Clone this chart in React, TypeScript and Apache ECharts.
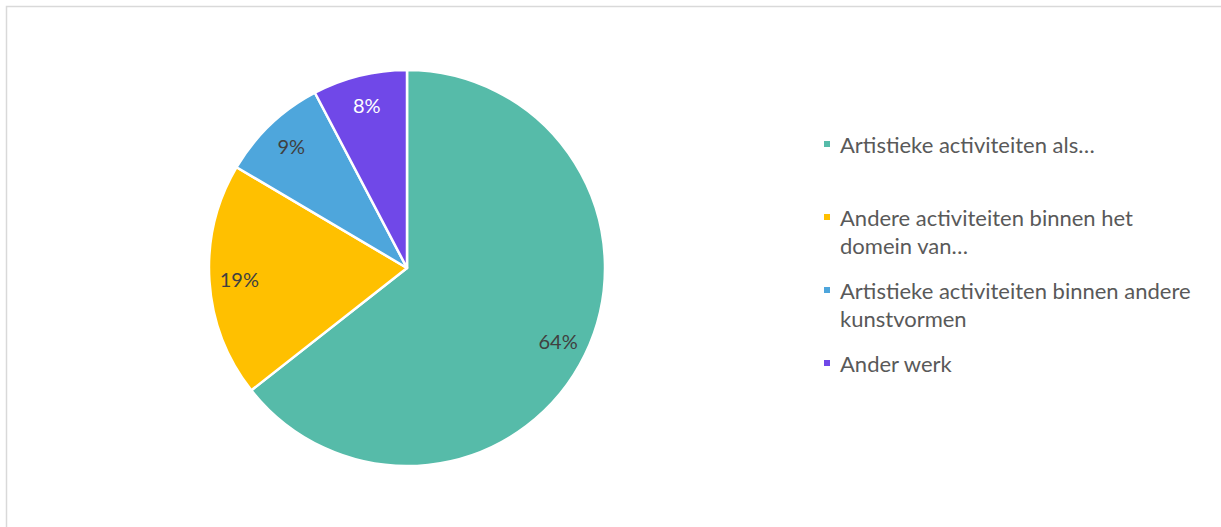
import React, { useEffect, useRef } from "react";
import * as echarts from "echarts";

const categories = [
  "Artistieke activiteiten als…",
  "Andere activiteiten binnen het domein van…",
  "Artistieke activiteiten binnen andere kunstvormen",
  "Ander werk",
];
const legendLines = [
  ["Artistieke activiteiten als…"],
  ["Andere activiteiten binnen het", "domein van…"],
  ["Artistieke activiteiten binnen andere", "kunstvormen"],
  ["Ander werk"],
];
const shares = [64.4, 19.1, 8.8, 7.7];
const colors = ["#56BBA9", "#FFC000", "#4EA6DC", "#7048E8"];
const labelColors = ["#404040", "#404040", "#404040", "#FFFFFF"];

const FONT = "Lato, 'Open Sans', sans-serif";

export default function App() {
  const ref = useRef<HTMLDivElement>(null);
  useEffect(() => {
    if (!ref.current) return;
    const chart = echarts.init(ref.current, null, { renderer: "svg" });
    const pieData = categories.map((name, i) => ({
      name,
      value: shares[i],
      itemStyle: { color: colors[i] },
    }));
    const labelData = categories.map((name, i) => ({
      name,
      value: shares[i],
      itemStyle: { color: "rgba(0,0,0,0)" },
      label: { color: labelColors[i] },
    }));
    chart.setOption({
      animation: false,
      backgroundColor: "#FFFFFF",
      graphic: [
        {
          type: "rect",
          silent: true,
          shape: { x: 6.5, y: 6.5, width: 1400, height: 700 },
          style: { fill: "none", stroke: "#D9D9D9", lineWidth: 1.5 },
        },
      ],
      legend: {
        orient: "vertical",
        left: 822,
        top: 102,
        padding: 0,
        itemGap: -11,
        itemWidth: 8,
        itemHeight: 8,
        icon: "rect",
        selectedMode: false,
        data: categories.map((name, i) => ({ name, itemStyle: { color: colors[i] } })),
        formatter: (name: string) => {
          const idx = categories.indexOf(name);
          const lines = legendLines[idx];
          const second = lines[1] ? `{t|${lines[1]}}` : "{e|}";
          return `{e|}\n{t|${lines[0]}}\n${second}`;
        },
        textStyle: {
          fontFamily: FONT,
          fontSize: 22,
          color: "#595959",
          rich: {
            t: { fontFamily: FONT, fontSize: 22, color: "#595959", lineHeight: 28, height: 28, padding: [0, 0, 0, 4] },
            e: { height: 28, lineHeight: 28 },
          },
        },
      },
      series: [
        {
          type: "pie",
          center: [407, 268],
          radius: [0, 198],
          startAngle: 90,
          clockwise: true,
          silent: true,
          label: { show: false },
          labelLine: { show: false },
          itemStyle: { borderColor: "#FFFFFF", borderWidth: 2.5 },
          emphasis: { disabled: true },
          data: pieData,
        },
        {
          type: "pie",
          center: [407, 268],
          radius: [0, 330],
          startAngle: 90,
          clockwise: true,
          silent: true,
          z: 3,
          emphasis: { disabled: true },
          labelLine: { show: false },
          label: {
            show: true,
            position: "inside",
            fontFamily: FONT,
            fontSize: 20,
            formatter: (p: any) => `${Math.round(p.value)}%`,
          },
          data: labelData,
        },
      ],
    });
    return () => chart.dispose();
  }, []);
  return (
    <div style={{ position: "fixed", left: 0, top: 0, width: 1221, height: 527, overflow: "hidden", background: "#fff" }}>
      <div ref={ref} style={{ width: 1221, height: 527 }} />
    </div>
  );
}
